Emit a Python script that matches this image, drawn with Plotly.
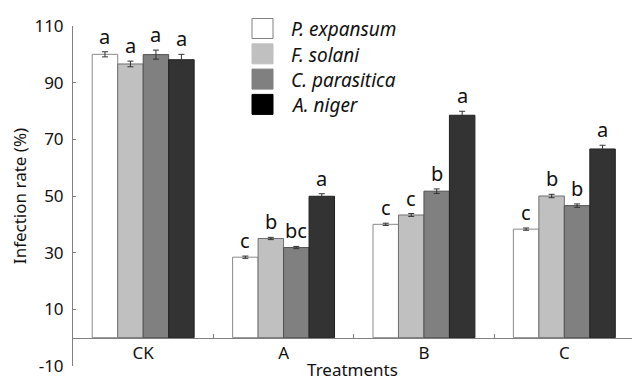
import plotly.graph_objects as go

# ---------------- data ----------------
categories = ["CK", "A", "B", "C"]
series_names = ["P. expansum", "F. solani", "C. parasitica", "A. niger"]

p_expansum = [100.0, 28.4, 40.0, 38.3]
f_solani = [96.6, 35.0, 43.3, 50.0]
c_parasitica = [99.9, 31.8, 51.7, 46.6]
a_niger = [98.1, 49.9, 78.5, 66.6]

p_expansum_err = [0.9, 0.4, 0.4, 0.4]
f_solani_err = [1.0, 0.4, 0.5, 0.6]
c_parasitica_err = [1.6, 0.4, 0.8, 0.6]
a_niger_err = [1.9, 0.9, 1.4, 1.3]

p_expansum_sig = ["a", "c", "c", "c"]
f_solani_sig = ["a", "b", "c", "b"]
c_parasitica_sig = ["a", "bc", "b", "b"]
a_niger_sig = ["a", "a", "a", "a"]

y_ticks = [-10, 10, 30, 50, 70, 90, 110]
y_tick_labels = ["-10", "10", "30", "50", "70", "90", "110"]

# ---------------- style ----------------
values = [p_expansum, f_solani, c_parasitica, a_niger]
errors = [p_expansum_err, f_solani_err, c_parasitica_err, a_niger_err]
sigs = [p_expansum_sig, f_solani_sig, c_parasitica_sig, a_niger_sig]
fills = ["#ffffff", "#c0c0c0", "#808080", "#333333"]
outlines = ["#8a8a8a", "#707070", "#505050", "#202020"]
legend_fills = ["#ffffff", "#c0c0c0", "#808080", "#000000"]
legend_outlines = ["#808080", "#c0c0c0", "#808080", "#000000"]

FONT = "Noto Sans, Open Sans, DejaVu Sans, sans-serif"
W, H = 632, 381
ML, MR, MT, MB = 73, 0, 26, 15
BARGAP = 0.274
AXIS_COLOR = "#808080"

fig = go.Figure()
for k in range(4):
    fig.add_trace(go.Bar(
        name=series_names[k],
        x=categories,
        y=values[k],
        marker=dict(color=fills[k], line=dict(color=outlines[k], width=1)),
        error_y=dict(type="data", array=errors[k], visible=True,
                     color="#333333", thickness=1, width=3),
        showlegend=False,
    ))

# significance letters
bw = (1 - BARGAP) / 4
annotations = []
for k in range(4):
    for i, cat in enumerate(categories):
        annotations.append(dict(
            x=i + (k - 1.5) * bw, y=values[k][i] + errors[k][i],
            xref="x", yref="y", text=sigs[k][i], showarrow=False,
            yanchor="bottom", xanchor="center", yshift=0,
            font=dict(family=FONT, size=20, color="#111111"),
        ))

# manual legend (pixel layout -> paper coords)
pw = W - ML - MR
ph = H - MT - MB


def px_x(px):
    return (px - ML) / pw


def px_y(py):
    return (H - MB - py) / ph


shapes = []
box_x0, box_x1 = 252, 273
row0_top, box_h, step = 18.5, 20, 25.3
for k in range(4):
    top = row0_top + k * step
    shapes.append(dict(
        type="rect", xref="paper", yref="paper",
        x0=px_x(box_x0), x1=px_x(box_x1),
        y0=px_y(top + box_h), y1=px_y(top),
        fillcolor=legend_fills[k], line=dict(color=legend_outlines[k], width=1),
    ))
    annotations.append(dict(
        x=px_x(289), y=px_y(top + box_h / 2 + 1), xref="paper", yref="paper",
        text="<i>" + series_names[k] + "</i>", showarrow=False,
        xanchor="left", yanchor="middle",
        font=dict(family=FONT, size=19, color="#111111"),
    ))

fig.update_layout(
    width=W, height=H,
    margin=dict(l=ML, r=MR, t=MT, b=MB, pad=0),
    paper_bgcolor="white", plot_bgcolor="white",
    barmode="group", bargap=BARGAP, bargroupgap=0,
    font=dict(family=FONT, size=17, color="#111111"),
    showlegend=False,
    annotations=annotations,
    shapes=shapes,
    xaxis=dict(
        type="category", range=[-0.5, 3.482],
        anchor="free", position=10 / 120,
        showline=True, linecolor=AXIS_COLOR, linewidth=1,
        ticks="inside", tickson="boundaries", ticklen=4, tickcolor=AXIS_COLOR,
        showgrid=False, zeroline=False,
        tickfont=dict(size=17),
        title=dict(text="Treatments", font=dict(size=17), standoff=3),
    ),
    yaxis=dict(
        range=[-10, 110], tickvals=y_ticks, ticktext=y_tick_labels,
        showline=True, linecolor=AXIS_COLOR, linewidth=1,
        ticks="inside", ticklen=3, tickcolor=AXIS_COLOR,
        showgrid=False, zeroline=False,
        tickfont=dict(size=17), ticklabelstandoff=5,
        title=dict(text="Infection rate (%)", font=dict(size=17), standoff=3),
    ),
)

fig.write_html("out.html")
